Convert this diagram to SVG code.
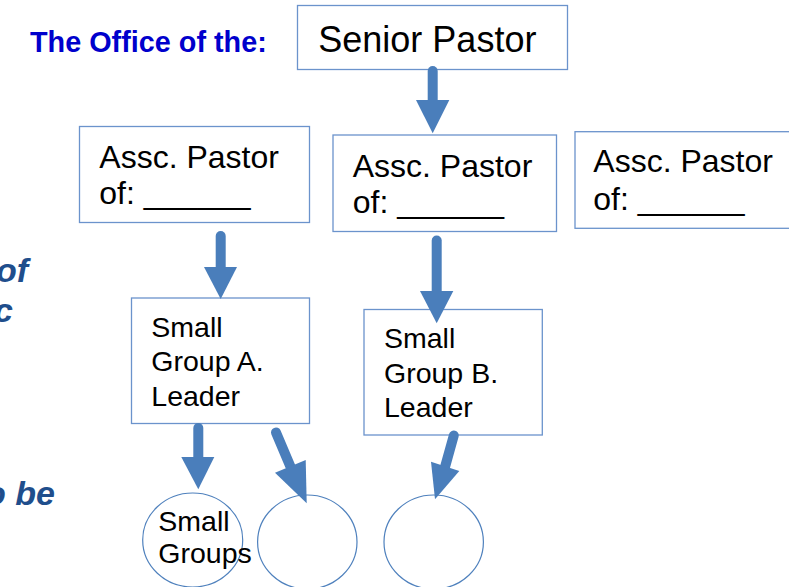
<svg xmlns="http://www.w3.org/2000/svg" width="789" height="587" viewBox="0 0 789 587">
<style>
.box{fill:#fff;stroke:#6B93CC;stroke-width:1.3}
.circ{fill:#fff;stroke:#4F81BD;stroke-width:1.2}
.t{font-family:"Liberation Sans",Arial,sans-serif;fill:#000}
.shaft{stroke:#4A7EBB;stroke-width:10;stroke-linecap:round;fill:none}
.head{fill:#4A7EBB}
.side{font-family:"Liberation Sans",Arial,sans-serif;font-weight:bold;font-style:italic;font-size:34px;fill:#1F4E8C}
</style>
<rect width="789" height="587" fill="#fff"/>
<g id="side-text">
<text class="side" x="28" y="281.7" text-anchor="end">of</text>
<text class="side" x="13" y="321.7" text-anchor="end">c</text>
<text class="side" x="55" y="505" text-anchor="end">o be</text>
</g>
<g id="title">
<text x="30" y="51.7" font-family="Liberation Sans,Arial,sans-serif" font-weight="bold" font-size="28.8" fill="#0000CC">The Office of the:</text>
</g>
<g id="senior-pastor">
<rect class="box" x="297.5" y="5.5" width="270" height="64"/>
<text class="t" x="318.3" y="52.3" font-size="36">Senior Pastor</text>
</g>
<g id="assc-pastor-1">
<rect class="box" x="79.5" y="126.5" width="230" height="96"/>
<text class="t" x="99.3" y="167.7" font-size="32">Assc. Pastor</text>
<text class="t" x="99.3" y="204" font-size="32">of: ______</text>
</g>
<g id="assc-pastor-2">
<rect class="box" x="333" y="135" width="223.5" height="96.5"/>
<text class="t" x="352.7" y="176.7" font-size="32">Assc. Pastor</text>
<text class="t" x="352.7" y="213.3" font-size="32">of: ______</text>
</g>
<g id="assc-pastor-3">
<rect class="box" x="575" y="131.7" width="220" height="96.6"/>
<text class="t" x="593.3" y="172.4" font-size="32">Assc. Pastor</text>
<text class="t" x="593.3" y="209.5" font-size="32">of: ______</text>
</g>
<g id="small-group-a">
<rect class="box" x="131.5" y="298" width="178" height="125.5"/>
<text class="t" x="151.3" y="336.7" font-size="28.5">Small</text>
<text class="t" x="151.3" y="370.7" font-size="28.5">Group A.</text>
<text class="t" x="151.3" y="405.7" font-size="28.5">Leader</text>
</g>
<g id="small-group-b">
<rect class="box" x="364" y="309.5" width="178.3" height="125.5"/>
<text class="t" x="384" y="348.3" font-size="28.5">Small</text>
<text class="t" x="384" y="382.7" font-size="28.5">Group B.</text>
<text class="t" x="384" y="416.7" font-size="28.5">Leader</text>
</g>
<g id="circle-1">
<ellipse class="circ" cx="192.7" cy="540" rx="50" ry="47"/>
<text class="t" x="158.3" y="530.7" font-size="28.5">Small</text>
<text class="t" x="158.3" y="563.3" font-size="28.5">Groups</text>
</g>
<g id="circle-2">
<ellipse class="circ" cx="307.3" cy="542" rx="49.7" ry="47"/>
</g>
<g id="circle-3">
<ellipse class="circ" cx="433.7" cy="542" rx="49.7" ry="47"/>
</g>
<g id="connectors">
<line class="shaft" x1="432.7" y1="71" x2="432.7" y2="101"/>
<polygon class="head" points="416,100 449.3,100 432.7,133.3"/>
<line class="shaft" x1="220.7" y1="236" x2="220.7" y2="268"/>
<polygon class="head" points="204,267 237,267 220.7,299"/>
<line class="shaft" x1="436.7" y1="240.5" x2="436.7" y2="292"/>
<polygon class="head" points="420,291 453.3,291 436.7,323.3"/>
<line class="shaft" x1="198.3" y1="428" x2="198.3" y2="458"/>
<polygon class="head" points="181.3,457 214.3,457 198.3,489.3"/>
<line class="shaft" x1="276" y1="432.5" x2="290.3" y2="466.3"/>
<polygon class="head" points="275,472.7 305.7,460 306.7,503.3"/>
<line class="shaft" x1="453.8" y1="435.5" x2="445.2" y2="466.3"/>
<polygon class="head" points="431,461.7 459.3,471 435,499.3"/>
</g>
</svg>
